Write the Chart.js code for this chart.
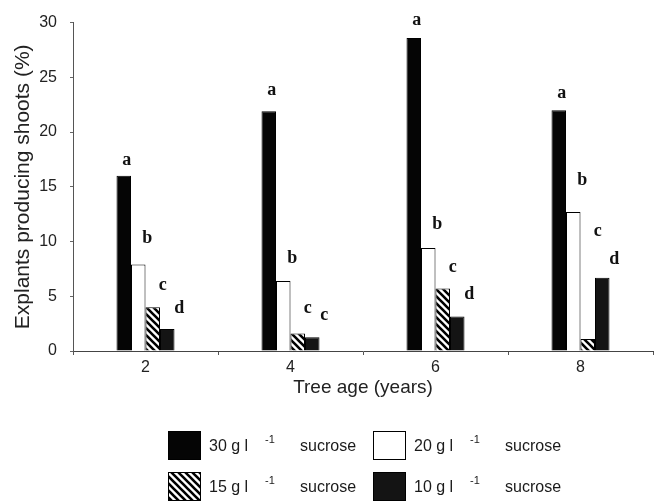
<!DOCTYPE html>
<html>
<head>
<meta charset="utf-8">
<script src="https://cdn.jsdelivr.net/npm/chart.js@4.4.1/dist/chart.umd.min.js"></script>
<style>
  html, body { margin: 0; padding: 0; background: #fff; }
  #wrap { width: 655px; height: 504px; }
</style>
</head>
<body>
<div id="wrap"><canvas id="c" width="655" height="504"></canvas></div>
<script>
// ---- data ----
const categories = ['2', '4', '6', '8'];
const concentrations = ['30', '20', '15', '10'];
const values30 = [16.0, 21.9, 28.6, 22.0];
const values20 = [7.9, 6.4, 9.4, 12.7];
const values15 = [4.0, 1.6, 5.7, 1.1];
const values10 = [2.0, 1.25, 3.15, 6.7];
const letters30 = ['a', 'a', 'a', 'a'];
const letters20 = ['b', 'b', 'b', 'b'];
const letters15 = ['c', 'c', 'c', 'c'];
const letters10 = ['d', 'c', 'd', 'd'];
// letter heights (in axis units) as they sit in the figure
const letterY30 = [17.4, 23.8, 30.2, 23.5];
const letterY20 = [10.3, 8.5, 11.6, 15.6];
const letterY15 = [6.0, 3.9, 7.6, 10.9];
const letterY10 = [3.9, 3.25, 5.2, 8.4];
const yTicks = [0, 5, 10, 15, 20, 25, 30];

// ---- hatch pattern ----
function makeHatch() {
  const p = document.createElement('canvas');
  p.width = 7; p.height = 7;
  const g = p.getContext('2d');
  g.fillStyle = '#fff';
  g.fillRect(0, 0, 7, 7);
  g.strokeStyle = '#000';
  g.lineWidth = 2.6;
  g.beginPath();
  for (let k = -1; k <= 1; k++) {
    g.moveTo(k * 7 - 1, -1);
    g.lineTo(k * 7 + 8, 8);
  }
  g.stroke();
  return document.getElementById('c').getContext('2d').createPattern(p, 'repeat');
}
const hatch = makeHatch();

const fills = ['#050505', '#ffffff', hatch, '#141414'];
const seriesValues = [values30, values20, values15, values10];
const seriesLetters = [letters30, letters20, letters15, letters10];
const seriesLetterY = [letterY30, letterY20, letterY15, letterY10];
const letterDx = [3, 9, 10, 12];

const datasets = seriesValues.map((vals, i) => ({
  label: concentrations[i] + ' g l-1 sucrose',
  data: vals,
  backgroundColor: fills[i],
  borderColor: '#000',
  borderWidth: 1,
  borderSkipped: 'bottom',
  categoryPercentage: 0.4,
  barPercentage: 1.0
}));

const letterPlugin = {
  id: 'letters',
  afterDatasetsDraw(chart) {
    const ctx = chart.ctx;
    const ys = chart.scales.y;
    ctx.save();
    ctx.font = 'bold 18px "Liberation Serif", "DejaVu Serif", serif';
    ctx.fillStyle = '#111';
    ctx.textAlign = 'center';
    ctx.textBaseline = 'middle';
    seriesLetters.forEach((lets, i) => {
      const meta = chart.getDatasetMeta(i);
      meta.data.forEach((bar, j) => {
        ctx.fillText(lets[j], bar.x + letterDx[i], ys.getPixelForValue(seriesLetterY[i][j]));
      });
    });
    ctx.restore();
  }
};

const legendPlugin = {
  id: 'customLegend',
  afterDraw(chart) {
    const ctx = chart.ctx;
    ctx.save();
    const colX = [168, 373];
    const rowY = [431, 472];
    const boxW = 33, boxH = 29;
    concentrations.forEach((c, i) => {
      const x = colX[i % 2];
      const y = rowY[Math.floor(i / 2)];
      ctx.fillStyle = fills[i];
      ctx.fillRect(x, y, boxW, boxH);
      ctx.strokeStyle = '#000';
      ctx.lineWidth = 1;
      ctx.strokeRect(x + 0.5, y + 0.5, boxW - 1, boxH - 1);
      const cy = y + boxH / 2 + 1;
      ctx.fillStyle = '#1a1a1a';
      ctx.textBaseline = 'middle';
      ctx.textAlign = 'left';
      ctx.font = '16px "Liberation Sans", Arial, sans-serif';
      ctx.fillText(c + ' g l', x + 41, cy);
      ctx.font = '11px "Liberation Sans", Arial, sans-serif';
      ctx.fillText('-1', x + 97, cy - 7);
      ctx.font = '16px "Liberation Sans", Arial, sans-serif';
      ctx.fillText('sucrose', x + 132, cy);
    });
    ctx.restore();
  }
};

new Chart(document.getElementById('c'), {
  type: 'bar',
  data: { labels: categories, datasets },
  options: {
    responsive: false,
    animation: false,
    events: [],
    layout: { padding: { top: 19, right: 2, left: 0, bottom: 103 } },
    plugins: {
      legend: { display: false },
      tooltip: { enabled: false }
    },
    scales: {
      x: {
        offset: true,
        grid: { display: true, drawOnChartArea: false, offset: true, tickLength: 4, color: '#555' },
        border: { display: true, color: '#444', width: 1 },
        ticks: { color: '#222', font: { size: 16, family: '"Liberation Sans", Arial, sans-serif' }, padding: 3 },
        title: { display: true, text: 'Tree age (years)', color: '#222', font: { size: 19, family: '"Liberation Sans", Arial, sans-serif' }, padding: { top: 0, bottom: 2 } },
        afterFit(s) { s.height = 50; }
      },
      y: {
        min: 0, max: 30,
        afterBuildTicks(s) { s.ticks = yTicks.map(v => ({ value: v })); },
        grid: { display: true, drawOnChartArea: false, tickLength: 3, color: '#666' },
        border: { display: true, color: '#555', width: 1 },
        ticks: { color: '#222', font: { size: 16, family: '"Liberation Sans", Arial, sans-serif' }, padding: 13 },
        title: { display: true, text: 'Explants producing shoots (%)', color: '#222', font: { size: 21, family: '"Liberation Sans", Arial, sans-serif' }, padding: { top: 11, bottom: 0 } },
        afterFit(s) { s.width = 73; }
      }
    }
  },
  plugins: [letterPlugin, legendPlugin]
});
</script>
</body>
</html>
